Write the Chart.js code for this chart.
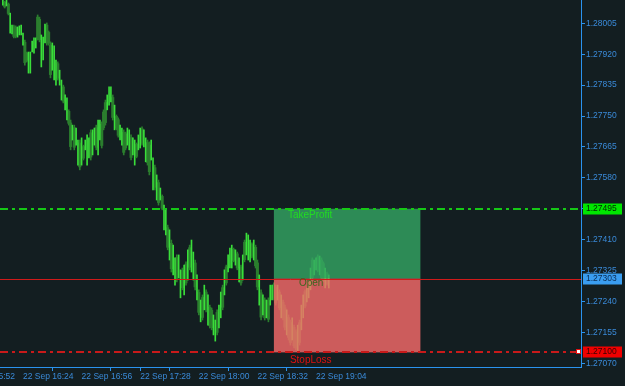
<!DOCTYPE html>
<html><head><meta charset="utf-8">
<script src="https://cdn.jsdelivr.net/npm/chart.js@4"></script>
<style>
html,body{margin:0;padding:0;background:#ffffff;}
#wrap{width:625px;height:386px;background:#131e21;}
canvas{display:block;}
</style></head>
<body><div id="wrap"><canvas id="c" width="625" height="386"></canvas></div>
<script>
// ---- data ----
const dateLabel = '22 Sep';
const firstBarTime = '16:13'; // M1 bars, one per minute
const highs = [
1.28069,1.28066,1.28069,1.28061,1.28033,1.28000,1.28000,1.27998,1.27995,1.27998,
1.28000,1.27978,1.27959,1.27926,1.27926,1.27926,1.27956,1.27965,1.27965,1.28028,
1.28022,1.27973,1.27967,1.28003,1.28006,1.27984,1.27954,1.27951,1.27943,1.27904,
1.27899,1.27876,1.27849,1.27835,1.27808,1.27800,1.27767,1.27739,1.27725,1.27725,
1.27717,1.27684,1.27684,1.27690,1.27670,1.27684,1.27698,1.27690,1.27712,1.27712,
1.27717,1.27725,1.27739,1.27739,1.27734,1.27767,1.27794,1.27808,1.27830,1.27830,
1.27808,1.27780,1.27753,1.27745,1.27725,1.27717,1.27712,1.27706,1.27717,1.27712,
1.27698,1.27690,1.27684,1.27676,1.27698,1.27717,1.27720,1.27712,1.27690,1.27684,
1.27679,1.27684,1.27635,1.27615,1.27588,1.27574,1.27552,1.27533,1.27505,1.27492,
1.27450,1.27437,1.27409,1.27395,1.27360,1.27368,1.27368,1.27327,1.27332,1.27340,
1.27349,1.27382,1.27395,1.27409,1.27376,1.27354,1.27313,1.27272,1.27244,1.27258,
1.27285,1.27272,1.27258,1.27230,1.27222,1.27203,1.27189,1.27217,1.27230,1.27266,
1.27285,1.27327,1.27340,1.27368,1.27387,1.27395,1.27387,1.27382,1.27376,1.27360,
1.27340,1.27368,1.27409,1.27428,1.27423,1.27409,1.27401,1.27409,1.27395,1.27354,
1.27313,1.27272,1.27258,1.27250,1.27244,1.27250,1.27285,1.27285,1.27291,1.27285,
1.27285,1.27272,1.27258,1.27244,1.27230,1.27217,1.27203,1.27189,1.27195,1.27175,
1.27162,1.27175,1.27189,1.27230,1.27258,1.27272,1.27277,1.27294,1.27332,1.27360,
1.27354,1.27360,1.27368,1.27365,1.27360,1.27349,1.27332,1.27321,1.27313];
const lows = [
1.28055,1.28047,1.28053,1.28028,1.27978,1.27976,1.27965,1.27965,1.27967,1.27973,
1.27973,1.27945,1.27890,1.27899,1.27868,1.27868,1.27926,1.27923,1.27937,1.27959,
1.27954,1.27885,1.27904,1.27951,1.27945,1.27945,1.27855,1.27876,1.27849,1.27835,
1.27849,1.27835,1.27794,1.27786,1.27767,1.27739,1.27725,1.27657,1.27684,1.27657,
1.27670,1.27615,1.27602,1.27615,1.27629,1.27657,1.27615,1.27635,1.27629,1.27643,
1.27670,1.27657,1.27643,1.27684,1.27662,1.27712,1.27725,1.27767,1.27780,1.27789,
1.27739,1.27712,1.27712,1.27692,1.27684,1.27670,1.27643,1.27657,1.27670,1.27657,
1.27629,1.27643,1.27615,1.27635,1.27657,1.27662,1.27670,1.27665,1.27624,1.27615,
1.27588,1.27629,1.27547,1.27547,1.27519,1.27505,1.27519,1.27492,1.27437,1.27423,
1.27382,1.27354,1.27321,1.27313,1.27285,1.27294,1.27305,1.27250,1.27272,1.27258,
1.27285,1.27299,1.27327,1.27321,1.27299,1.27272,1.27244,1.27203,1.27184,1.27189,
1.27217,1.27211,1.27175,1.27167,1.27162,1.27148,1.27131,1.27148,1.27167,1.27195,
1.27217,1.27258,1.27285,1.27321,1.27332,1.27332,1.27349,1.27340,1.27327,1.27294,
1.27285,1.27299,1.27349,1.27368,1.27354,1.27349,1.27360,1.27354,1.27332,1.27272,
1.27230,1.27189,1.27203,1.27189,1.27195,1.27184,1.27230,1.27244,1.27244,1.27230,
1.27244,1.27217,1.27195,1.27189,1.27162,1.27148,1.27134,1.27120,1.27134,1.27112,
1.27107,1.27101,1.27120,1.27162,1.27195,1.27222,1.27239,1.27250,1.27272,1.27299,
1.27313,1.27327,1.27321,1.27313,1.27299,1.27294,1.27277,1.27285,1.27277];
const opens = [
1.28058,1.28063,1.28056,1.28058,1.27987,1.27980,1.27996,1.27994,1.27972,1.27977,
1.27978,1.27950,1.27953,1.27923,1.27875,1.27874,1.27930,1.27928,1.27941,1.28022,
1.28016,1.27895,1.27911,1.27958,1.28000,1.27980,1.27945,1.27884,1.27858,1.27842,
1.27894,1.27839,1.27800,1.27830,1.27772,1.27746,1.27763,1.27731,1.27689,1.27718,
1.27675,1.27622,1.27676,1.27623,1.27666,1.27660,1.27624,1.27641,1.27704,1.27650,
1.27675,1.27718,1.27652,1.27690,1.27727,1.27761,1.27787,1.27771,1.27785,1.27793,
1.27801,1.27719,1.27749,1.27740,1.27688,1.27675,1.27705,1.27701,1.27675,1.27662,
1.27691,1.27648,1.27622,1.27672,1.27661,1.27668,1.27715,1.27670,1.27631,1.27677,
1.27670,1.27635,1.27556,1.27608,1.27526,1.27567,1.27522,1.27529,1.27444,1.27430,
1.27443,1.27362,1.27400,1.27321,1.27293,1.27361,1.27311,1.27258,1.27326,1.27266,
1.27343,1.27307,1.27388,1.27330,1.27307,1.27346,1.27251,1.27265,1.27190,1.27251,
1.27224,1.27266,1.27183,1.27224,1.27216,1.27153,1.27137,1.27210,1.27173,1.27202,
1.27278,1.27265,1.27335,1.27326,1.27338,1.27338,1.27383,1.27345,1.27371,1.27301,
1.27335,1.27306,1.27403,1.27374,1.27361,1.27355,1.27397,1.27360,1.27389,1.27346,
1.27238,1.27264,1.27209,1.27244,1.27200,1.27243,1.27236,1.27248,1.27286,1.27279,
1.27248,1.27266,1.27201,1.27238,1.27223,1.27155,1.27196,1.27182,1.27140,1.27169,
1.27156,1.27108,1.27182,1.27169,1.27201,1.27267,1.27243,1.27254,1.27278,1.27354,
1.27317,1.27330,1.27363,1.27318,1.27354,1.27344,1.27282,1.27317,1.27281];
const closes = [
1.28066,1.28050,1.28067,1.28032,1.28028,1.27997,1.27969,1.27970,1.27992,1.27995,
1.27996,1.27974,1.27897,1.27903,1.27920,1.27921,1.27952,1.27960,1.27961,1.27966,
1.27960,1.27965,1.27961,1.27997,1.27952,1.27950,1.27864,1.27944,1.27936,1.27898,
1.27854,1.27872,1.27844,1.27791,1.27804,1.27794,1.27730,1.27666,1.27721,1.27664,
1.27712,1.27677,1.27610,1.27683,1.27634,1.27681,1.27690,1.27684,1.27637,1.27705,
1.27712,1.27664,1.27730,1.27734,1.27669,1.27718,1.27732,1.27804,1.27825,1.27826,
1.27746,1.27773,1.27716,1.27697,1.27721,1.27712,1.27650,1.27662,1.27712,1.27707,
1.27636,1.27685,1.27677,1.27639,1.27694,1.27711,1.27675,1.27707,1.27683,1.27622,
1.27597,1.27678,1.27626,1.27554,1.27581,1.27512,1.27549,1.27496,1.27498,1.27485,
1.27389,1.27429,1.27330,1.27387,1.27352,1.27301,1.27362,1.27319,1.27278,1.27332,
1.27291,1.27374,1.27334,1.27400,1.27368,1.27280,1.27306,1.27210,1.27238,1.27196,
1.27278,1.27217,1.27250,1.27173,1.27168,1.27198,1.27183,1.27155,1.27224,1.27259,
1.27224,1.27320,1.27291,1.27363,1.27382,1.27389,1.27353,1.27378,1.27332,1.27353,
1.27291,1.27361,1.27355,1.27422,1.27416,1.27403,1.27364,1.27403,1.27338,1.27280,
1.27305,1.27197,1.27252,1.27195,1.27239,1.27191,1.27279,1.27281,1.27249,1.27236,
1.27281,1.27223,1.27252,1.27195,1.27169,1.27210,1.27141,1.27127,1.27189,1.27118,
1.27112,1.27168,1.27127,1.27223,1.27252,1.27227,1.27273,1.27290,1.27326,1.27305,
1.27350,1.27357,1.27326,1.27360,1.27305,1.27299,1.27327,1.27289,1.27309];
const xTickTimes = ['16:24','16:56','17:28','18:00','18:32','19:04','15:52'];
const yTicks = [1.28005,1.27920,1.27835,1.27750,1.27665,1.27580,1.27495,1.27410,1.27325,1.27240,1.27155,1.27070];
const takeProfit = 1.27495, openPrice = 1.27303, stopLoss = 1.27100;
const boxStartTime = '18:41', boxEndTime = '20:01';
const levelNames = ['TakeProfit', 'Open', 'StopLoss'];

// ---- helpers ----
function toMin(t){ const p = t.split(':').map(Number); return p[0]*60 + p[1] - 960; }
function fmtMin(v){ const t = v + 960; const h = Math.floor(t/60), m = t - h*60;
  return dateLabel + ' ' + String(h).padStart(2,'0') + ':' + String(m).padStart(2,'0'); }
const startMin = toMin(firstBarTime);
const barX = highs.map((_, i) => startMin + i);
const isUp = closes.map((c, i) => c >= opens[i]);

const BRIGHT = '#3ade3a', DARK = '#2b7e2e';
const AXIS = '#2a93ee', TXT = '#3a8ad8';
const FONT = {family: '"Liberation Sans", Arial, sans-serif', size: 8.5};

const overlay = {
  id: 'overlay',
  afterDatasetsDraw(chart) {
    const {ctx, chartArea: a, scales: {x, y}} = chart;
    const xs = x.getPixelForValue(toMin(boxStartTime));
    const xe = x.getPixelForValue(toMin(boxEndTime));
    const yTP = y.getPixelForValue(takeProfit);
    const yO = y.getPixelForValue(openPrice);
    const ySL = y.getPixelForValue(stopLoss);
    ctx.save();
    ctx.fillStyle = 'rgba(52,166,100,0.8)';
    ctx.fillRect(xs, yTP, xe - xs, yO - yTP);
    ctx.fillStyle = 'rgba(251,107,107,0.8)';
    ctx.fillRect(xs, yO, xe - xs, ySL - yO);
    const hline = (yy) => { ctx.beginPath(); ctx.moveTo(a.left, yy); ctx.lineTo(a.right, yy); ctx.stroke(); };
    ctx.lineWidth = 2; ctx.setLineDash([8,4,3,4]);
    ctx.strokeStyle = '#16c816'; hline(Math.round(yTP));
    ctx.strokeStyle = '#c81a1a'; hline(Math.round(ySL));
    ctx.setLineDash([]); ctx.lineWidth = 1;
    ctx.strokeStyle = '#d01a1a'; hline(Math.round(yO) + 0.5);
    ctx.font = '10px "Liberation Sans", Arial, sans-serif';
    ctx.textBaseline = 'middle'; ctx.textAlign = 'left';
    ctx.fillStyle = '#22dd22'; ctx.fillText(levelNames[0], xs + 14, yTP + 6.5);
    ctx.fillStyle = '#3c661e'; ctx.fillText(levelNames[1], xs + 25, yO + 5);
    ctx.fillStyle = '#e01010'; ctx.fillText(levelNames[2], xs + 16, ySL + 7.5);
    // small marker at the end of stop loss line
    ctx.fillStyle = '#ffffff'; ctx.strokeStyle = '#e01010'; ctx.lineWidth = 1;
    ctx.fillRect(576.5, Math.round(ySL) - 2.5, 4, 4);
    ctx.strokeRect(576.5, Math.round(ySL) - 2.5, 4, 4);
    ctx.restore();
  },
  afterDraw(chart) {
    const {ctx, scales: {y}} = chart;
    const tags = [[takeProfit, '#00e600', '#002800'], [openPrice, '#3a9df0', '#0a2a50'], [stopLoss, '#f00000', '#3a0000']];
    ctx.save();
    ctx.font = '8.5px "Liberation Sans", Arial, sans-serif';
    ctx.textBaseline = 'middle'; ctx.textAlign = 'left';
    tags.forEach(([p, bg, fg]) => {
      const yc = Math.round(y.getPixelForValue(p));
      ctx.fillStyle = bg; ctx.fillRect(583, yc - 5.5, 39, 11);
      ctx.fillStyle = fg; ctx.fillText(p.toFixed(5), 586, yc);
    });
    ctx.restore();
  }
};

new Chart(document.getElementById('c'), {
  type: 'bar',
  data: {
    datasets: [
      {
        label: 'range',
        data: barX.map((xv, i) => ({x: xv, y: [lows[i], highs[i]]})),
        backgroundColor: isUp.map(u => u ? BRIGHT : DARK),
        barThickness: 1, grouped: false, borderWidth: 0
      },
      {
        label: 'body',
        data: barX.map((xv, i) => ({x: xv, y: isUp[i] ? null : [closes[i], opens[i]]})),
        backgroundColor: DARK,
        barThickness: 2.4, grouped: false, borderWidth: 0
      }
    ]
  },
  options: {
    responsive: false, animation: false, devicePixelRatio: 1,
    layout: {padding: 0},
    plugins: {legend: {display: false}, tooltip: {enabled: false}},
    scales: {
      x: {
        type: 'linear', position: 'bottom', min: 11.44, max: 328.7, offset: false,
        grid: {display: true, drawOnChartArea: false, drawTicks: true, tickLength: 4, color: AXIS},
        border: {display: true, color: AXIS, width: 1},
        ticks: {autoSkip: false, maxRotation: 0, minRotation: 0, align: 'start', padding: 1,
          color: TXT, font: FONT, callback: (v) => fmtMin(v)},
        afterBuildTicks: (s) => { s.ticks = xTickTimes.map(t => ({value: toMin(t)})); },
        afterFit: (s) => { s.height = 19; s.paddingLeft = 0; s.paddingRight = 0; }
      },
      y: {
        type: 'linear', position: 'right', min: 1.270598, max: 1.280691,
        grid: {display: true, drawOnChartArea: false, drawTicks: true, tickLength: 4, color: AXIS},
        border: {display: true, color: AXIS, width: 1},
        ticks: {padding: 1, color: TXT, font: FONT, callback: (v) => Number(v).toFixed(5)},
        afterBuildTicks: (s) => { s.ticks = yTicks.map(v => ({value: v})); },
        afterFit: (s) => { s.width = 44; s.paddingTop = 0; s.paddingBottom = 0; }
      }
    }
  },
  plugins: [overlay]
});
</script></body></html>
